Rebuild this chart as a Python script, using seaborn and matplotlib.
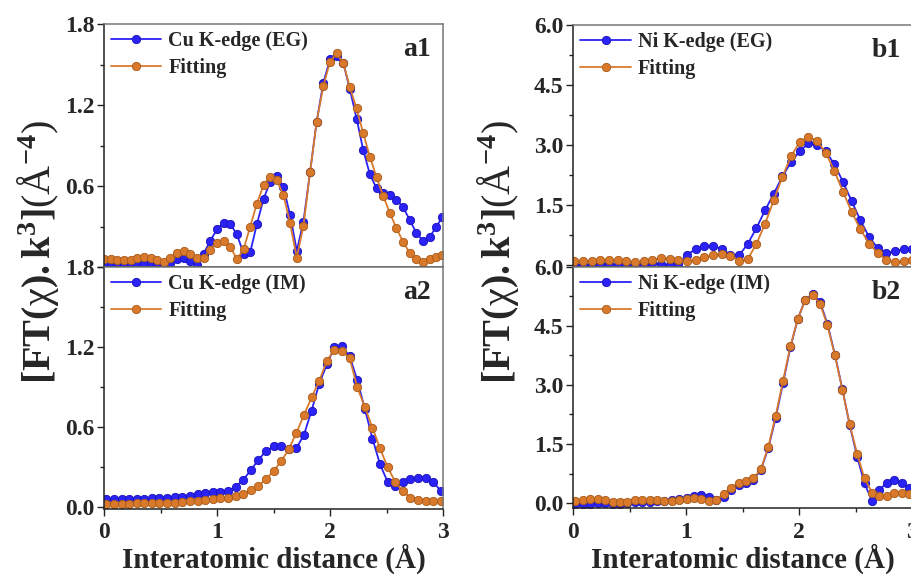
import numpy as np
import pandas as pd
import matplotlib
matplotlib.use("Agg")
import matplotlib.pyplot as plt
import seaborn as sns
from matplotlib.ticker import AutoMinorLocator, FixedLocator
from matplotlib.font_manager import FontProperties

sns.set_style("ticks")
plt.rcParams['font.family'] = ['Liberation Serif', 'DejaVu Serif']
plt.rcParams['mathtext.fontset'] = 'custom'
plt.rcParams['mathtext.rm'] = 'Liberation Serif'
plt.rcParams['mathtext.bf'] = 'Liberation Serif:bold'
plt.rcParams['mathtext.it'] = 'Liberation Serif:italic'

# ---------------- data ----------------
a1_r = [0.000, 0.059, 0.118, 0.176, 0.235, 0.294, 0.353, 0.412, 0.471, 0.529,
        0.588, 0.647, 0.706, 0.765, 0.824, 0.882, 0.941, 1.000, 1.059, 1.118,
        1.176, 1.235, 1.294, 1.353, 1.412, 1.471, 1.529, 1.588, 1.647, 1.706,
        1.765, 1.824, 1.882, 1.941, 2.000, 2.059, 2.118, 2.176, 2.235, 2.294,
        2.353, 2.412, 2.471, 2.529, 2.588, 2.647, 2.706, 2.765, 2.824, 2.882,
        2.941, 2.995]
a1_exp = [0.01, 0.01, 0.01, 0.015, 0.015, 0.02, 0.025, 0.03, 0.02, 0.005,
          0.03, 0.06, 0.07, 0.045, 0.015, 0.10, 0.195, 0.279, 0.328, 0.318,
          0.242, 0.10, 0.109, 0.318, 0.504, 0.632, 0.674, 0.59, 0.385, 0.121,
          0.336, 0.706, 1.077, 1.365, 1.538, 1.56, 1.51, 1.316, 1.10, 0.867,
          0.686, 0.583, 0.546, 0.533, 0.50, 0.442, 0.348, 0.25, 0.195, 0.22,
          0.30, 0.368]
a1_fit = [0.06, 0.06, 0.055, 0.05, 0.055, 0.065, 0.075, 0.07, 0.055, 0.035,
          0.065, 0.105, 0.12, 0.10, 0.065, 0.065, 0.126, 0.18, 0.195, 0.15,
          0.057, 0.13, 0.30, 0.47, 0.607, 0.67, 0.645, 0.533, 0.323, 0.069,
          0.306, 0.706, 1.077, 1.34, 1.52, 1.583, 1.51, 1.33, 1.175, 0.99,
          0.817, 0.664, 0.526, 0.402, 0.286, 0.188, 0.101, 0.057, 0.04, 0.057,
          0.077, 0.089]

a2_r = [0.020, 0.087, 0.155, 0.222, 0.289, 0.357, 0.424, 0.491, 0.558, 0.626,
        0.693, 0.760, 0.828, 0.895, 0.962, 1.030, 1.097, 1.164, 1.231, 1.299,
        1.366, 1.433, 1.501, 1.568, 1.635, 1.703, 1.770, 1.837, 1.904, 1.972,
        2.039, 2.106, 2.174, 2.241, 2.308, 2.376, 2.443, 2.510, 2.577, 2.645,
        2.712, 2.779, 2.847, 2.914, 2.981]
a2_exp = [0.058, 0.058, 0.059, 0.06, 0.061, 0.063, 0.066, 0.069, 0.072, 0.075,
          0.078, 0.084, 0.096, 0.106, 0.114, 0.116, 0.121, 0.151, 0.205, 0.276,
          0.355, 0.42, 0.455, 0.455, 0.438, 0.443, 0.543, 0.724, 0.924, 1.07,
          1.197, 1.205, 1.13, 0.954, 0.737, 0.513, 0.32, 0.19, 0.155, 0.19,
          0.21, 0.22, 0.215, 0.19, 0.12]
a2_fit = [0.025, 0.025, 0.026, 0.027, 0.028, 0.029, 0.03, 0.031, 0.032, 0.034,
          0.037, 0.043, 0.048, 0.055, 0.061, 0.066, 0.072, 0.084, 0.1, 0.127,
          0.16, 0.21, 0.27, 0.345, 0.433, 0.558, 0.692, 0.822, 0.946, 1.096,
          1.18, 1.17, 1.116, 0.899, 0.75, 0.595, 0.44, 0.30, 0.19, 0.119,
          0.072, 0.052, 0.047, 0.047, 0.047]

b1_r = [0.010, 0.087, 0.163, 0.240, 0.317, 0.393, 0.470, 0.547, 0.624, 0.700,
        0.777, 0.854, 0.930, 1.007, 1.084, 1.160, 1.237, 1.314, 1.391, 1.467,
        1.544, 1.621, 1.697, 1.774, 1.851, 1.927, 2.004, 2.081, 2.158, 2.234,
        2.311, 2.388, 2.464, 2.541, 2.618, 2.694, 2.771, 2.848, 2.925, 2.995]
b1_exp = [0.02, 0.01, 0.02, 0.03, 0.03, 0.02, 0.01, 0.02, 0.04, 0.05,
          0.03, 0.01, 0.03, 0.27, 0.41, 0.49, 0.49, 0.41, 0.27, 0.25,
          0.54, 0.935, 1.375, 1.79, 2.22, 2.575, 2.85, 3.04, 3.0, 2.85,
          2.52, 2.075, 1.6, 1.125, 0.71, 0.435, 0.31, 0.35, 0.405, 0.405]
b1_fit = [0.1, 0.1, 0.117, 0.125, 0.142, 0.125, 0.1, 0.075, 0.1, 0.142,
          0.183, 0.158, 0.125, 0.1, 0.125, 0.2, 0.25, 0.283, 0.242, 0.117,
          0.16, 0.54, 1.04, 1.625, 2.21, 2.726, 3.076, 3.21, 3.10, 2.81,
          2.355, 1.83, 1.33, 0.9, 0.54, 0.31, 0.14, 0.076, 0.1, 0.14]

b2_r = [0.019, 0.085, 0.150, 0.216, 0.281, 0.347, 0.413, 0.478, 0.544, 0.609,
        0.675, 0.741, 0.806, 0.872, 0.937, 1.003, 1.069, 1.134, 1.200, 1.265,
        1.331, 1.397, 1.462, 1.528, 1.593, 1.659, 1.725, 1.790, 1.856, 1.921,
        1.987, 2.053, 2.118, 2.184, 2.249, 2.315, 2.381, 2.446, 2.512, 2.577,
        2.643, 2.709, 2.774, 2.840, 2.905, 2.971]
b2_exp = [-0.03, -0.02, -0.01, 0.0, 0.0, -0.01, -0.02, 0.0, 0.02, 0.04,
          0.04, 0.05, 0.06, 0.08, 0.1, 0.14, 0.18, 0.21, 0.16, 0.08,
          0.15, 0.33, 0.45, 0.52, 0.6, 0.84, 1.39, 2.15, 3.05, 3.95,
          4.68, 5.16, 5.3, 5.1, 4.55, 3.77, 2.9, 1.98, 1.18, 0.5,
          0.066, 0.336, 0.52, 0.6, 0.52, 0.38]
b2_fit = [0.058, 0.083, 0.1, 0.1, 0.083, 0.04, 0.02, 0.04, 0.07, 0.083,
          0.083, 0.07, 0.058, 0.058, 0.083, 0.1, 0.12, 0.1, 0.058, 0.083,
          0.235, 0.395, 0.52, 0.572, 0.632, 0.86, 1.417, 2.21, 3.10, 3.98,
          4.68, 5.16, 5.27, 5.06, 4.51, 3.75, 2.88, 2.0, 1.25, 0.63,
          0.27, 0.185, 0.19, 0.27, 0.27, 0.24]

labels_exp = ["Cu K-edge (EG)", "Cu K-edge (IM)", "Ni K-edge (EG)", "Ni K-edge (IM)"]
label_fit = "Fitting"
panel_tags = ["a1", "a2", "b1", "b2"]
x_label = "Interatomic distance (Å)"
y_label = r"$\mathbf{[FT(}$χ$\mathbf{).k^{3}]}$(Å$^{\mathbf{-4}}$)"

BLUE = "#2b22f5"
BLUE_E = "#1a12b8"
ORANGE = "#d9792c"
ORANGE_E = "#a85a18"

# ---------------- figure ----------------
fig = plt.figure(figsize=(9.12, 5.74), dpi=100)
W = 912.0
H = 574.0

def rect(x0, x1, y_top, y_bot):
    return [x0 / W, 1 - y_bot / H, (x1 - x0) / W, (y_bot - y_top) / H]

ax_a1 = fig.add_axes(rect(104, 443, 24, 267))
ax_a2 = fig.add_axes(rect(104, 443, 267, 508.5))
ax_b1 = fig.add_axes(rect(573.3, 912.3, 24.7, 266.7))
ax_b2 = fig.add_axes(rect(573.3, 912.3, 266.7, 508.3))

panels = [
    (ax_a1, a1_r, a1_exp, a1_fit, labels_exp[0], (0, 1.8), [0, 0.6, 1.2, 1.8], ["", "0.6", "1.2", "1.8"], False),
    (ax_a2, a2_r, a2_exp, a2_fit, labels_exp[1], (-0.01, 1.8), [0, 0.6, 1.2, 1.8], ["0.0", "0.6", "1.2", "1.8"], True),
    (ax_b1, b1_r, b1_exp, b1_fit, labels_exp[2], (-0.03, 6.0), [0, 1.5, 3.0, 4.5, 6.0], ["", "1.5", "3.0", "4.5", "6.0"], False),
    (ax_b2, b2_r, b2_exp, b2_fit, labels_exp[3], (-0.13, 6.0), [0, 1.5, 3.0, 4.5, 6.0], ["0.0", "1.5", "3.0", "4.5", "6.0"], True),
]

tick_font = FontProperties(family="Liberation Serif", weight="bold", size=17)
leg_font = FontProperties(family="Liberation Serif", weight="bold", size=14.5)

for (ax, r, yexp, yfit, lab, ylim, yt, ytl, bottom), tag in zip(panels, panel_tags):
    df = pd.DataFrame({"r": r * 2,
                       "v": list(yexp) + list(yfit),
                       "s": [lab] * len(r) + [label_fit] * len(r)})
    sns.lineplot(data=df, x="r", y="v", hue="s", ax=ax,
                 palette={lab: BLUE, label_fit: ORANGE},
                 marker="o", markersize=6, linewidth=1.3,
                 markeredgewidth=0.6, sort=False, estimator=None)
    for line in ax.get_lines():
        c = line.get_color()
        line.set_markeredgecolor(BLUE_E if c == BLUE else ORANGE_E)
    ax.set_xlim(0, 3)
    ax.set_ylim(*ylim)
    ax.yaxis.set_major_locator(FixedLocator(yt))
    ax.set_yticklabels(ytl)
    ax.yaxis.set_minor_locator(AutoMinorLocator(2))
    ax.set_xticks([0, 1, 2, 3])
    ax.xaxis.set_minor_locator(AutoMinorLocator(2))
    ax.tick_params(axis="both", which="major", direction="out", length=5, width=1.0,
                   color="#222222", pad=2)
    ax.tick_params(axis="x", which="major", pad=5)
    ax.tick_params(axis="both", which="minor", direction="out", length=3, width=1.0,
                   color="#222222")
    for t in ax.get_yticklabels():
        t.set_fontproperties(tick_font)
    if bottom:
        ax.set_xticklabels(["0", "1", "2", "3"])
        for t in ax.get_xticklabels():
            t.set_fontproperties(tick_font)
        ax.set_xlabel(x_label, fontsize=21, fontweight="bold", labelpad=0)
    else:
        ax.tick_params(axis="x", which="both", bottom=False, labelbottom=False)
        ax.set_xlabel("")
    ax.set_ylabel("")
    for side in ["left", "bottom"]:
        ax.spines[side].set_color("#222222")
        ax.spines[side].set_linewidth(1.1)
    for side in ["top", "right"]:
        ax.spines[side].set_visible(True)
        ax.spines[side].set_color("#777777")
        ax.spines[side].set_linewidth(1.1)
    leg = ax.legend(loc="upper left", frameon=False, prop=leg_font,
                    handlelength=2.5, handletextpad=0.35, labelspacing=0.35,
                    borderaxespad=0.0, borderpad=0.35)
    ax.text(0.965, 0.895, tag, transform=ax.transAxes, ha="right", va="center",
            fontsize=20, fontweight="bold")

fig.text(38 / W, 1 - 252 / H, y_label, rotation=90, ha="center", va="center", fontsize=29)
fig.text(498 / W, 1 - 252 / H, y_label, rotation=90, ha="center", va="center", fontsize=29)

fig.savefig("out.png", dpi=100)
